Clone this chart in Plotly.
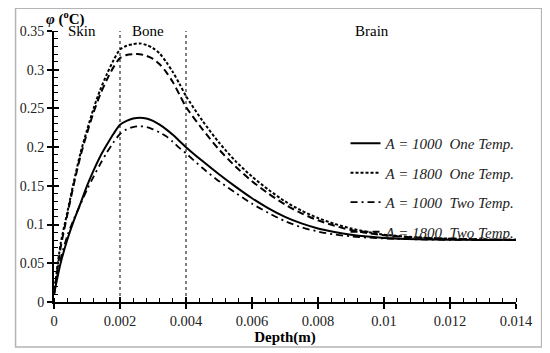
import plotly.graph_objects as go

depth = [0, 0.0002, 0.0004, 0.0006, 0.0008, 0.001, 0.0012, 0.0014, 0.0016, 0.0018,
         0.002, 0.0022, 0.0024, 0.0026, 0.0028, 0.003, 0.0032, 0.0034, 0.0036, 0.0038,
         0.004, 0.0045, 0.005, 0.0055, 0.006, 0.0065, 0.007, 0.0075, 0.008, 0.0085,
         0.009, 0.0095, 0.01, 0.011, 0.012, 0.013, 0.014]

a1000_one = [0.010, 0.050, 0.080, 0.105, 0.127, 0.150, 0.170, 0.188, 0.203, 0.217,
             0.229, 0.234, 0.237, 0.238, 0.237, 0.234, 0.229, 0.223, 0.216, 0.208,
             0.200, 0.182, 0.165, 0.149, 0.134, 0.121, 0.110, 0.1015, 0.095, 0.0905,
             0.087, 0.0845, 0.0828, 0.0812, 0.0805, 0.0801, 0.080]

a1800_one = [0.010, 0.075, 0.115, 0.155, 0.192, 0.222, 0.250, 0.274, 0.294, 0.312,
             0.326, 0.331, 0.333, 0.334, 0.332, 0.328, 0.321, 0.310, 0.297, 0.282,
             0.266, 0.234, 0.206, 0.182, 0.162, 0.145, 0.130, 0.118, 0.1085, 0.101,
             0.095, 0.0905, 0.087, 0.0835, 0.0818, 0.0809, 0.0805]

a1000_two = [0.010, 0.055, 0.085, 0.107, 0.126, 0.145, 0.162, 0.178, 0.193, 0.206,
             0.217, 0.223, 0.226, 0.227, 0.226, 0.223, 0.219, 0.214, 0.207, 0.199,
             0.192, 0.173, 0.156, 0.141, 0.127, 0.115, 0.1045, 0.0965, 0.091, 0.0872,
             0.0848, 0.0832, 0.0821, 0.0809, 0.0803, 0.080, 0.080]

a1800_two = [0.010, 0.070, 0.112, 0.152, 0.188, 0.218, 0.245, 0.268, 0.287, 0.303,
             0.315, 0.319, 0.320, 0.320, 0.318, 0.314, 0.307, 0.297, 0.284, 0.268,
             0.252, 0.223, 0.197, 0.175, 0.156, 0.140, 0.126, 0.1145, 0.1055, 0.0985,
             0.093, 0.089, 0.0862, 0.0832, 0.0816, 0.0808, 0.0804]

series_names = ["A = 1000\u00a0\u00a0One Temp.", "A = 1800\u00a0\u00a0One Temp.",
                "A = 1000\u00a0\u00a0Two Temp.", "A = 1800\u00a0\u00a0Two Temp."]

x_tickvals = [0, 0.002, 0.004, 0.006, 0.008, 0.01, 0.012, 0.014]
x_ticktext = ["0", "0.002", "0.004", "0.006", "0.008", "0.01", "0.012", "0.014"]
y_tickvals = [0, 0.05, 0.1, 0.15, 0.2, 0.25, 0.3, 0.35]
y_ticktext = ["0", "0.05", "0.1", "0.15", "0.2", "0.25", "0.3", "0.35"]

boundaries = [0.002, 0.004]
region_labels = ["Skin", "Bone", "Brain"]
region_x = [0.00085, 0.00285, 0.00965]

FONT = "Liberation Serif, Times New Roman, serif"
X_RANGE = [0, 0.014]
Y_RANGE = [0, 0.35]

fig = go.Figure()
styles = [
    dict(dash="solid", width=2),
    dict(dash="3px,2px", width=2),
    dict(dash="7px,4px,2px,4px", width=1.8),
    dict(dash="7px,4px", width=2),
]
for i, (ys, name) in enumerate(zip([a1000_one, a1800_one, a1000_two, a1800_two], series_names)):
    fig.add_trace(go.Scatter(
        x=depth, y=ys, mode="lines", name=name, legendgroup=f"g{i}",
        line=dict(color="black", shape="spline", smoothing=0.8, **styles[i]),
    ))

# invisible trace to carry the overlay axes (inner half of crossing major ticks)
fig.add_trace(go.Scatter(x=[X_RANGE[0]], y=[Y_RANGE[0]], xaxis="x2", yaxis="y2",
                         mode="markers", marker=dict(opacity=0), showlegend=False,
                         hoverinfo="skip"))

for b in boundaries:
    fig.add_shape(type="line", xref="x", yref="y", x0=b, x1=b, y0=Y_RANGE[0], y1=Y_RANGE[1],
                  line=dict(color="black", width=1, dash="3px,3px"))

for lab, xv in zip(region_labels, region_x):
    fig.add_annotation(x=xv, y=Y_RANGE[1], xref="x", yref="y", text=lab, showarrow=False,
                       font=dict(family=FONT, size=15, color="black"), yanchor="middle")

# outer border
fig.add_shape(type="rect", xref="paper", yref="paper", x0=-0.0832, x1=1.0555,
              y0=-0.166, y1=1.0842, line=dict(color="#b4b4b4", width=1.5), layer="below")

fig.add_annotation(xref="paper", yref="paper", x=-0.021, y=1.047, xanchor="left",
                   yanchor="middle", showarrow=False,
                   text="<b><i>φ</i> (<sup>o</sup>C)</b>",
                   font=dict(family=FONT, size=15, color="black"))

fig.update_layout(
    width=550, height=353,
    margin=dict(l=39.5, r=42, t=23.3, b=59),
    paper_bgcolor="white", plot_bgcolor="white",
    font=dict(family=FONT, size=14, color="#222"),
    showlegend=True,
    legend=dict(x=0.631, y=0.646, xanchor="left", yanchor="top",
                traceorder="grouped", tracegroupgap=7,
                font=dict(family=FONT, size=15, color="#222", style="italic"),
                bgcolor="rgba(0,0,0,0)"),
    xaxis=dict(range=X_RANGE, tickvals=x_tickvals, ticktext=x_ticktext,
               showgrid=False, zeroline=False, showline=True, linecolor="black", linewidth=2,
               ticks="outside", ticklen=5, tickwidth=1.5, tickcolor="black",
               minor=dict(dtick=0.0004, tick0=0, ticks="inside", ticklen=4, tickwidth=1.2, tickcolor="black", showgrid=False),
               title=dict(text="<b>Depth(m)</b>", font=dict(family=FONT, size=15, color="black"), standoff=2),
               tickfont=dict(family=FONT, size=14.5, color="#222")),
    yaxis=dict(range=Y_RANGE, tickvals=y_tickvals, ticktext=y_ticktext,
               showgrid=False, zeroline=False, showline=True, linecolor="black", linewidth=2,
               ticks="outside", ticklen=5, tickwidth=1.5, tickcolor="black",
               minor=dict(dtick=0.01, tick0=0, ticks="inside", ticklen=4, tickwidth=1.2, tickcolor="black", showgrid=False),
               tickfont=dict(family=FONT, size=14, color="#222")),
    xaxis2=dict(overlaying="x", range=X_RANGE, tickvals=x_tickvals, showticklabels=False,
                showgrid=False, zeroline=False, showline=False, side="bottom",
                ticks="inside", ticklen=5, tickwidth=1.5, tickcolor="black"),
    yaxis2=dict(overlaying="y", range=Y_RANGE, tickvals=y_tickvals, showticklabels=False,
                showgrid=False, zeroline=False, showline=False, side="left",
                ticks="inside", ticklen=5, tickwidth=1.5, tickcolor="black"),
)

fig.write_html("out.html")
